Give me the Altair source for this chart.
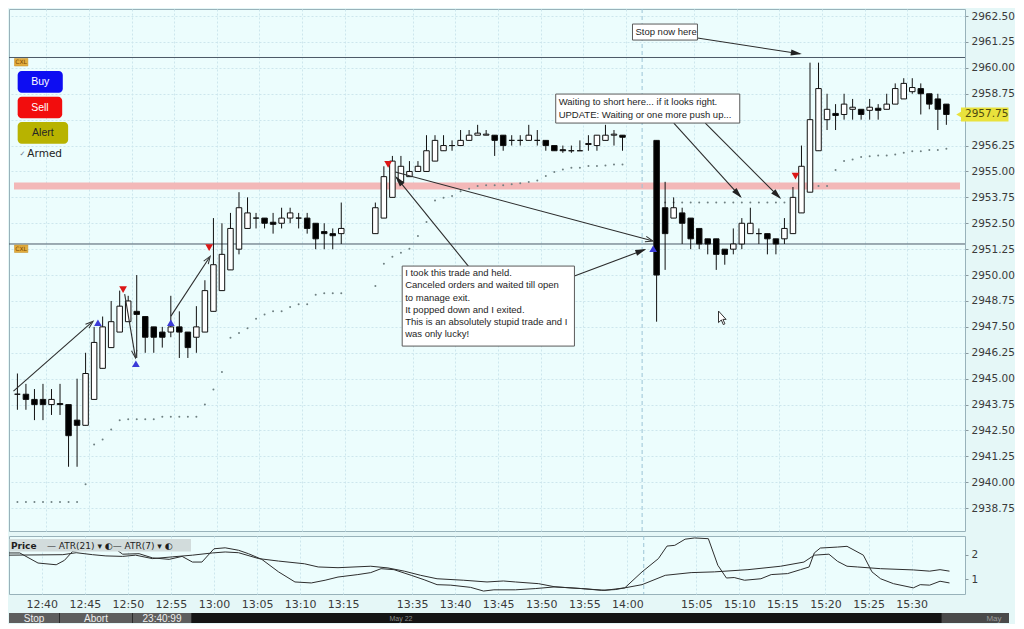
import math
import altair as alt
import pandas as pd

# ---------------- data ----------------
bar_index = list(range(0, 39)) + list(range(42, 72)) + list(range(75, 110))

opens = [2944.25, 2944.25, 2944.0, 2944.0, 2943.75, 2943.8, 2943.75, 2943.0, 2942.75, 2944.0,
         2945.5, 2946.5, 2947.25, 2947.75, 2948.25, 2948.0, 2947.5, 2947.25, 2947.25, 2947.5,
         2947.25, 2947.0, 2947.25, 2948.25, 2949.25, 2950.25, 2951.25, 2952.25, 2952.75, 2952.75,
         2952.55, 2952.5, 2952.75, 2952.75, 2952.75, 2952.5, 2952.1, 2952.0, 2952.0,
         2952.0, 2952.75, 2953.75, 2954.5, 2954.75, 2955.0, 2955.0, 2955.5, 2956.0, 2956.25,
         2956.25, 2956.5, 2956.75, 2956.75, 2956.75, 2956.75, 2956.5, 2956.5, 2956.5, 2956.5,
         2956.5, 2956.25, 2956.05, 2956.0, 2956.0, 2956.3, 2956.25, 2956.5, 2956.75, 2956.75,
         2956.5, 2953.25, 2952.75, 2953.0, 2952.75, 2952.25, 2951.75, 2951.75, 2951.25, 2951.25,
         2951.5, 2952.0, 2952.0, 2952.0, 2951.75, 2951.75, 2952.0, 2953.0, 2954.0, 2956.0,
         2957.5, 2957.8, 2957.75, 2958.0, 2958.0, 2957.95, 2958.05, 2958.0, 2958.25, 2958.5,
         2958.85, 2959.0, 2958.75, 2958.5, 2958.25]
highs = [2945.25, 2944.75, 2944.5, 2944.75, 2944.5, 2944.75, 2943.75, 2945.0, 2946.25, 2947.5,
         2948.0, 2948.75, 2949.25, 2949.0, 2950.0, 2948.0, 2947.5, 2947.5, 2949.0, 2948.25,
         2947.25, 2948.5, 2949.75, 2952.75, 2952.5, 2953.0, 2954.0, 2953.75, 2953.0, 2952.75,
         2953.0, 2953.25, 2953.25, 2953.0, 2953.0, 2952.5, 2952.5, 2952.25, 2953.5,
         2953.5, 2955.25, 2955.75, 2955.75, 2955.5, 2955.5, 2956.75, 2956.75, 2956.75, 2956.5,
         2957.0, 2957.0, 2957.25, 2957.0, 2956.75, 2956.75, 2956.75, 2956.75, 2957.25, 2957.0,
         2956.5, 2956.25, 2956.25, 2956.25, 2956.5, 2956.75, 2956.75, 2957.25, 2957.0, 2956.75,
         2956.5, 2954.5, 2953.75, 2953.25, 2952.75, 2952.25, 2951.75, 2951.75, 2951.25, 2952.25,
         2952.75, 2953.25, 2952.25, 2952.0, 2951.75, 2952.75, 2954.25, 2956.25, 2960.25, 2960.25,
         2958.75, 2958.25, 2958.75, 2958.5, 2958.0, 2958.5, 2958.25, 2958.75, 2959.25, 2959.5,
         2959.5, 2959.25, 2958.75, 2958.75, 2958.25]
lows = [2943.5, 2943.5, 2943.0, 2943.0, 2943.25, 2943.25, 2940.75, 2940.75, 2942.75, 2944.0,
        2945.5, 2946.5, 2947.25, 2947.75, 2946.0, 2946.25, 2946.25, 2946.5, 2947.0, 2946.0,
        2946.0, 2946.25, 2947.25, 2948.25, 2949.25, 2950.25, 2951.0, 2952.25, 2952.25, 2952.25,
        2952.0, 2952.25, 2952.5, 2952.25, 2952.0, 2951.25, 2951.25, 2951.25, 2951.5,
        2952.0, 2952.75, 2953.75, 2954.5, 2954.75, 2955.0, 2955.0, 2955.5, 2956.0, 2956.0,
        2956.25, 2956.5, 2956.75, 2956.75, 2955.75, 2956.0, 2956.25, 2956.25, 2956.5, 2956.25,
        2956.0, 2956.0, 2955.9, 2955.9, 2956.0, 2956.0, 2956.0, 2956.5, 2956.25, 2956.0,
        2947.75, 2950.25, 2952.75, 2951.5, 2951.25, 2951.25, 2951.0, 2950.25, 2950.5, 2951.0,
        2951.25, 2952.0, 2951.5, 2951.0, 2951.0, 2951.5, 2952.0, 2953.0, 2954.0, 2956.0,
        2957.0, 2957.0, 2957.5, 2957.5, 2957.5, 2957.5, 2957.5, 2958.0, 2958.25, 2958.5,
        2958.75, 2957.75, 2958.0, 2957.0, 2957.25]
closes = [2944.25, 2944.0, 2943.75, 2943.75, 2944.0, 2943.75, 2942.25, 2942.75, 2945.25, 2946.75,
          2947.5, 2947.75, 2948.5, 2948.75, 2948.1, 2947.0, 2947.0, 2947.0, 2947.5, 2947.25,
          2946.5, 2947.5, 2949.25, 2950.5, 2951.0, 2952.25, 2953.25, 2953.0, 2952.75, 2952.5,
          2952.45, 2952.75, 2953.0, 2952.75, 2952.25, 2951.75, 2952.0, 2951.9, 2952.25,
          2953.25, 2954.75, 2955.5, 2955.25, 2955.0, 2955.25, 2956.0, 2956.5, 2956.25, 2956.25,
          2956.5, 2956.75, 2956.85, 2956.8, 2956.5, 2956.25, 2956.5, 2956.5, 2956.75, 2956.5,
          2956.25, 2956.0, 2956.0, 2956.0, 2956.0, 2956.35, 2956.75, 2956.75, 2956.8, 2956.65,
          2950.0, 2952.0, 2953.25, 2952.5, 2951.75, 2951.5, 2951.5, 2951.0, 2951.0, 2951.5,
          2952.5, 2952.5, 2952.0, 2951.75, 2951.5, 2952.25, 2953.75, 2955.25, 2957.5, 2959.0,
          2958.0, 2957.7, 2958.25, 2958.1, 2957.75, 2958.1, 2957.95, 2958.25, 2959.0, 2959.25,
          2959.05, 2958.75, 2958.25, 2958.0, 2957.75]
stop_dots = ([2939.05] * 8 + [2939.9, 2941.83, 2942.07, 2942.55, 2943.0] + [2943.04] * 4 + [2943.16] * 5 +
             [2943.76, 2944.48, 2945.32, 2946.97, 2947.21, 2947.44, 2947.89, 2948.1, 2948.26, 2948.26,
              2948.46, 2948.59, 2948.59, 2949.05] + [2949.12] * 3 +
             [2949.47, 2950.55, 2950.88, 2951.08, 2951.27, 2951.88, 2952.56, 2953.6, 2953.73, 2953.81,
              2954.05, 2954.17, 2954.3, 2954.34, 2954.34, 2954.34, 2954.38, 2954.43, 2954.49, 2954.57,
              2954.78, 2954.97, 2955.1, 2955.18, 2955.18, 2955.26, 2955.26, 2955.29, 2955.34, 2955.34] +
             [2953.5] * 18 + [2954.3] * 3 +
             [2955.07, 2955.5, 2955.58, 2955.7, 2955.74, 2955.77, 2955.77, 2955.82, 2955.9, 2955.98,
              2955.98, 2956.03, 2956.03, 2956.1])

atr21_x = [-0.4, 5.85, 7.4, 9.3, 10.85, 12.8, 14.3, 16.25, 18.55, 20.9, 23.2, 24.7, 26.25, 28.6, 30.9,
           33.9, 35.5, 37.8, 41.6, 43.6, 45.5, 47.4, 49.3, 52.4, 55.1, 57.0, 58.4, 61.1, 63.0, 66.1,
           68.8, 71.1, 73.1, 75.8, 78.8, 81.5, 85.4, 89.2, 91.9, 93.1, 94.8, 95.8, 96.9, 98.1, 100.8,
           104.6, 106.5, 107.7, 108.8]
atr21_v = [1.98, 2.0, 2.08, 2.0, 1.95, 1.93, 1.98, 1.84, 1.91, 1.98, 2.07, 2.11, 2.08, 1.84, 1.74,
           1.63, 1.50, 1.47, 1.53, 1.46, 1.33, 1.16, 1.02, 0.96, 0.89, 0.93, 0.89, 0.82, 0.69, 0.62,
           0.55, 0.65, 0.78, 1.16, 1.27, 1.30, 1.39, 1.53, 1.70, 1.98, 2.02, 1.73, 1.53, 1.50, 1.43,
           1.38, 1.33, 1.39, 1.33]
atr7_x = [-0.4, 0.85, 2.97, 5.08, 6.04, 7.0, 8.55, 10.1, 12.0, 12.8,
          14.7, 16.25, 18.2, 19.7, 20.9, 22.0, 23.4, 24.7, 26.25, 27.4,
          28.95, 30.9, 32.8, 34.7, 36.3, 37.8, 40.1, 41.6, 42.8, 44.3,
          46.3, 47.8, 49.3, 50.9, 53.2, 54.7, 55.9, 58.4, 60.7, 63.0,
          66.1, 68.4, 70.0, 71.1, 73.1, 75.0, 76.0, 76.9, 78.1, 79.2,
          80.8, 81.9, 82.9, 83.8, 85.0, 86.9, 88.1, 90.0, 91.5, 92.5,
          93.1, 93.8, 95.8, 96.9, 98.8, 99.8, 100.8, 102.3, 104.6, 105.4,
          106.5, 107.7, 108.8]
atr7_v = [2.07, 2.07, 1.66, 1.59, 1.77, 2.14, 2.22, 2.18, 2.22, 2.02,
          2.04, 1.87, 1.81, 1.93, 1.70, 1.70, 2.24, 2.28, 2.18, 2.04,
          1.81, 1.30, 0.89, 0.85, 0.96, 1.09, 1.19, 1.27, 1.43, 1.39,
          1.16, 0.98, 0.78, 0.76, 0.67, 0.52, 0.57, 0.57, 0.62, 0.69,
          0.62, 0.55, 0.58, 0.65, 1.30, 1.84, 2.35, 2.38, 2.63, 2.68,
          2.65, 1.57, 1.05, 1.07, 0.96, 1.02, 1.19, 1.23, 1.39, 1.50,
          2.07, 2.27, 2.31, 2.34, 1.98, 1.30, 1.02, 0.82, 0.65, 0.78,
          0.76, 0.92, 0.85]

tick_labels = ["12:40", "12:45", "12:50", "12:55", "13:00", "13:05", "13:10", "13:15",
               "13:35", "13:40", "13:45", "13:50", "13:55", "14:00",
               "15:05", "15:10", "15:15", "15:20", "15:25", "15:30"]
tick_bars = [3, 8, 13, 18, 23, 28, 33, 38, 46, 51, 56, 61, 66, 71, 79, 84, 89, 94, 99, 104]
price_ticks = [round(2938.75 + 1.25 * k, 2) for k in range(20)]
atr_ticks = [1, 2]

buy_x = [9.45, 13.9, 18.0, 74.6]
buy_p = [2947.7, 2945.72, 2947.7, 2951.27]
sell_x = [12.4, 22.5, 43.5, 91.3]
sell_p = [2949.3, 2951.32, 2955.34, 2954.78]

stop_level = 2960.5
cxl_level = 2951.5
band_level = 2954.3
last_price = 2957.75
session_break = 73.3

stop_text = "Stop now here"
wait_lines = ["Waiting to short here... if it looks right.", "UPDATE: Waiting or one more push up..."]
took_lines = ["I took this trade and held.", "Canceled orders and waited till open", "to manage exit.",
              "It popped down and I exited.", "This is an absolutely stupid trade and I", "was only lucky!"]

assert len(bar_index) == len(opens) == len(highs) == len(lows) == len(closes) == len(stop_dots)
assert len(atr21_x) == len(atr21_v) and len(atr7_x) == len(atr7_v)

# ---------------- layout ----------------
W, H, HA, HS = 956, 522, 58, 10
X0, X1 = -0.4, 110.6
Y0, Y1 = 2937.65, 2962.84
A0, A1 = 0.40, 2.76
PXI = W / (X1 - X0)
PXP = H / (Y1 - Y0)
ATR_TOP = 8 + H + 3


def ref_i(xp):
    return (xp - 6.0) / 8.66


def ref_p(yp):
    return 2962.5 - (yp - 15.0) / 20.72


def ui_i(xp):
    return X0 + (xp - 8.0) / PXI


def ui_p(yp):
    return Y1 - (yp - 8.0) / PXP


def ui_a(yp):
    return A1 - (yp - ATR_TOP) / HA * (A1 - A0)


xs = alt.Scale(domain=[X0, X1], nice=False, zero=False)
ys = alt.Scale(domain=[Y0, Y1], nice=False, zero=False)
as_ = alt.Scale(domain=[A0, A1], nice=False, zero=False)

GRID = dict(gridColor="#cde6ed", gridDash=[2, 2], gridWidth=1)
tick_pos = [round(b + 0.4, 1) for b in tick_bars]
label_expr = ("[" + ",".join("'%s'" % t for t in tick_labels) + "][indexof([" +
              ",".join("%g" % p for p in tick_pos) + "], datum.value)]")
# the last-price tag hides the label right under it
price_label_expr = "abs(datum.value - %g) < 0.3 && datum.value < %g ? '' : format(datum.value, '.2f')" % (
    last_price, last_price)

x_axis_top = alt.Axis(values=tick_pos, labels=False, ticks=False, domain=False, grid=True, title=None, **GRID)
y_axis_price = alt.Axis(orient="right", values=price_ticks, labelExpr=price_label_expr, grid=True, title=None,
                        tickSize=3, labelPadding=3, domain=False, tickColor="#8a9aa0",
                        labelFont="DejaVu Sans", labelFontSize=10.5, labelColor="#3a3a3a",
                        labelOverlap=False, **GRID)
x_axis_atr = alt.Axis(values=tick_pos, labelExpr=label_expr, ticks=False, domain=False, grid=True,
                      title=None, labelPadding=4, labelFont="DejaVu Sans", labelFontSize=11,
                      labelColor="#3a3a3a", labelFlush=False, labelOverlap=False, **GRID)
y_axis_atr = alt.Axis(orient="right", values=atr_ticks, format="d", grid=False, title=None,
                      tickSize=3, labelPadding=3, domain=False, tickColor="#8a9aa0",
                      labelFont="DejaVu Sans", labelFontSize=10.5, labelColor="#3a3a3a")


def PX(f):
    return alt.X(f + ":Q", scale=xs, axis=x_axis_top)


def PY(f):
    return alt.Y(f + ":Q", scale=ys, axis=y_axis_price)


def AX(f):
    return alt.X(f + ":Q", scale=xs, axis=x_axis_atr)


def AY(f):
    return alt.Y(f + ":Q", scale=as_, axis=y_axis_atr)


# ---------------- price panel ----------------
cdf = pd.DataFrame({"i": bar_index, "o": opens, "h": highs, "l": lows, "c": closes, "stop": stop_dots})

band = alt.Chart(pd.DataFrame({"x1": [X0], "x2": [X1], "p1": [band_level - 0.17], "p2": [band_level + 0.17]})
                 ).mark_rect(fill="#f3b8b8").encode(x=PX("x1"), x2=alt.X2("x2"), y=PY("p1"), y2=alt.Y2("p2"))
levels = alt.Chart(pd.DataFrame({"p": [stop_level, cxl_level]})).mark_rule(
    color="#4b5967", strokeWidth=1).encode(y=PY("p"))
divider = alt.Chart(pd.DataFrame({"i": [session_break]})).mark_rule(
    color="#9cc4d6", strokeDash=[4, 3], strokeWidth=1).encode(x=PX("i"))
dots = alt.Chart(cdf).mark_circle(size=4, color="#6f8082", opacity=1).encode(x=PX("i"), y=PY("stop"))
wicks = alt.Chart(cdf).mark_rule(color="#111111", strokeWidth=1).encode(x=PX("i"), y=PY("l"), y2=alt.Y2("h"))
bodies = alt.Chart(cdf).mark_bar(size=5.5, stroke="#111111", strokeWidth=1).encode(
    x=PX("i"), y=PY("o"), y2=alt.Y2("c"),
    fill=alt.when(alt.datum.c >= alt.datum.o).then(alt.value("#ffffff")).otherwise(alt.value("#000000")))
buys = alt.Chart(pd.DataFrame({"i": buy_x, "p": buy_p})).mark_point(
    shape="triangle-up", filled=True, size=60, color="#3b3bd8", opacity=1).encode(x=PX("i"), y=PY("p"))
sells = alt.Chart(pd.DataFrame({"i": sell_x, "p": sell_p})).mark_point(
    shape="triangle-down", filled=True, size=60, color="#dc1616", opacity=1).encode(x=PX("i"), y=PY("p"))

# annotation arrows (reference pixel readings -> data units)
arrows_px = [
    (697, 37, 803, 53, "solid"),
    (673, 122, 742, 197, "solid"),
    (705, 122, 782, 198, "solid"),
    (465, 266, 390, 175, "solid"),
    (572, 275, 645, 248, "solid"),
    (390, 171, 652, 240, "open"),
    (2, 390, 83, 320, "open"),
    (115, 293, 126, 357, "open"),
    (162, 315, 202, 255, "open"),
]
arow, hrow = [], []
for (xa, ya, xb, yb, kind) in arrows_px:
    i1, p1, i2, p2 = ref_i(xa), ref_p(ya), ref_i(xb), ref_p(yb)
    dx = (i2 - i1) * PXI
    dy = -(p2 - p1) * PXP
    L = math.hypot(dx, dy)
    ux, uy = dx / L, dy / L
    ang = math.degrees(math.atan2(ux, -uy)) % 360
    back = 5.5 if kind == "solid" else 4.0
    arow.append({"i1": i1, "p1": p1, "i2": i2 - 2 * ux / PXI, "p2": p2 + 2 * uy / PXP, "kind": kind})
    hrow.append({"i": i2 - back * ux / PXI, "p": p2 + back * uy / PXP, "ang": ang, "kind": kind})
adf = pd.DataFrame(arow)
hdf = pd.DataFrame(hrow)
arrow_lines = alt.Chart(adf).mark_rule(color="#2c2c2c", strokeWidth=1.1).encode(
    x=PX("i1"), y=PY("p1"), x2=alt.X2("i2"), y2=alt.Y2("p2"))
heads_solid = alt.Chart(hdf[hdf.kind == "solid"]).mark_point(
    shape="M0,-1L0.55,1L-0.55,1Z", filled=True, size=121, color="#222222", opacity=1).encode(
    x=PX("i"), y=PY("p"), angle=alt.Angle("ang:Q", scale=None))
heads_open = alt.Chart(hdf[hdf.kind == "open"]).mark_point(
    shape="M-0.7,1L0,-1L0.7,1", filled=False, size=60, color="#333333", strokeWidth=1, opacity=1).encode(
    x=PX("i"), y=PY("p"), angle=alt.Angle("ang:Q", scale=None))

boxes = pd.DataFrame({
    "x1": [ref_i(631), ref_i(553), ref_i(397)],
    "x2": [ref_i(697), ref_i(740), ref_i(572)],
    "p1": [ref_p(23), ref_p(93), ref_p(265)],
    "p2": [ref_p(39), ref_p(122), ref_p(345)],
})
box_rects = alt.Chart(boxes).mark_rect(fill="#ffffff", stroke="#5a5a5a", strokeWidth=1).encode(
    x=PX("x1"), x2=alt.X2("x2"), y=PY("p1"), y2=alt.Y2("p2"))
trows = [{"i": ref_i(634), "p": ref_p(31), "t": stop_text}]
trows += [{"i": ref_i(556), "p": ref_p(100.7 + 13.6 * k), "t": t} for k, t in enumerate(wait_lines)]
trows += [{"i": ref_i(400), "p": ref_p(272.3 + 12.1 * k), "t": t} for k, t in enumerate(took_lines)]
box_text = alt.Chart(pd.DataFrame(trows)).mark_text(
    align="left", baseline="middle", font="Liberation Sans", fontSize=9.5, color="#1e1e1e").encode(
    x=PX("i"), y=PY("p"), text="t:N")

cxl = pd.DataFrame({"x1": [ui_i(8.5)] * 2, "x2": [ui_i(22)] * 2, "xm": [ui_i(15.2)] * 2,
                    "p1": [stop_level - 1 / PXP, cxl_level - 1 / PXP],
                    "p2": [stop_level - 8.5 / PXP, cxl_level - 8.5 / PXP],
                    "pm": [stop_level - 4.8 / PXP, cxl_level - 4.8 / PXP], "t": ["CXL", "CXL"]})
cxl_rect = alt.Chart(cxl).mark_rect(fill="#e3ad3e", stroke="#c48d22", strokeWidth=0.5).encode(
    x=PX("x1"), x2=alt.X2("x2"), y=PY("p1"), y2=alt.Y2("p2"))
cxl_text = alt.Chart(cxl).mark_text(fontSize=6, font="DejaVu Sans", color="#7a4600", baseline="middle").encode(
    x=PX("xm"), y=PY("pm"), text="t:N")

btn = pd.DataFrame({
    "x1": [ui_i(11.7)] * 3, "x2": [ui_i(57.3), ui_i(56.7), ui_i(62.7)],
    "p1": [ui_p(70), ui_p(95.7), ui_p(121)], "p2": [ui_p(91.7), ui_p(117.3), ui_p(142.7)],
    "xm": [ui_i(34.5), ui_i(34.2), ui_i(37.2)], "pm": [ui_p(81), ui_p(106.5), ui_p(132)],
    "t": ["Buy", "Sell", "Alert"], "fill": ["#0d0df2", "#f20d0d", "#b8b300"],
    "tc": ["#ffffff", "#ffffff", "#262626"]})
btn_rect = alt.Chart(btn).mark_rect(cornerRadius=4).encode(
    x=PX("x1"), x2=alt.X2("x2"), y=PY("p1"), y2=alt.Y2("p2"), fill=alt.Fill("fill:N", scale=None))
btn_text = alt.Chart(btn).mark_text(font="Liberation Sans", fontSize=10.5, baseline="middle").encode(
    x=PX("xm"), y=PY("pm"), text="t:N", color=alt.Color("tc:N", scale=None))
armed = pd.DataFrame({"i": [ui_i(13.5), ui_i(21.5)], "p": [ui_p(152.5), ui_p(153)], "t": ["\u2713", "Armed"],
                      "c": ["#6a7a8c", "#222222"], "s": [7, 10.5]})
armed_text = alt.Chart(armed).mark_text(font="DejaVu Sans", align="left", baseline="middle").encode(
    x=PX("i"), y=PY("p"), text="t:N", color=alt.Color("c:N", scale=None), size=alt.Size("s:Q", scale=None))

tag = pd.DataFrame({"x1": [ui_i(8 + W + 1)], "x2": [ui_i(8 + W + 49)], "xt": [ui_i(8 + W + 5)],
                    "xp": [ui_i(8 + W - 1)],
                    "p1": [last_price - 7 / PXP], "p2": [last_price + 7 / PXP], "p": [last_price],
                    "t": ["%.2f" % last_price]})
tag_rect = alt.Chart(tag).mark_rect(fill="#e9e23c").encode(x=PX("x1"), x2=alt.X2("x2"), y=PY("p1"), y2=alt.Y2("p2"))
tag_ptr = alt.Chart(tag).mark_point(shape="triangle-left", filled=True, size=40, color="#e9e23c", opacity=1).encode(
    x=PX("xp"), y=PY("p"))
tag_text = alt.Chart(tag).mark_text(font="DejaVu Sans", fontSize=10.5, align="left", baseline="middle",
                                    color="#4e4a10").encode(x=PX("xt"), y=PY("p"), text="t:N")

cursor = alt.Chart(pd.DataFrame({"i": [ui_i(724)], "p": [ui_p(318)]})).mark_point(
    shape="M-0.5,-1L-0.5,0.45L-0.15,0.12L0.1,0.7L0.3,0.6L0.05,0.05L0.45,0.05Z",
    filled=True, size=256, fill="#ffffff", stroke="#333333", strokeWidth=1, opacity=1).encode(
    x=PX("i"), y=PY("p"))

price = alt.layer(band, levels, divider, dots, wicks, bodies, buys, sells, arrow_lines, heads_solid,
                  heads_open, box_rects, box_text, cxl_rect, cxl_text, btn_rect, btn_text, armed_text,
                  tag_rect, tag_ptr, tag_text, cursor).properties(width=W, height=H)

# ---------------- ATR panel ----------------
atr_df = pd.DataFrame({"series": ["ATR(21)"] * len(atr21_x) + ["ATR(7)"] * len(atr7_x),
                       "i": atr21_x + atr7_x, "v": atr21_v + atr7_v})
atr_div = alt.Chart(pd.DataFrame({"i": [session_break]})).mark_rule(
    color="#9cc4d6", strokeDash=[4, 3], strokeWidth=1).encode(x=AX("i"))
atr_lines = alt.Chart(atr_df).mark_line(color="#2e2e2e", strokeWidth=1, clip=True).encode(
    x=AX("i"), y=AY("v"), detail="series:N")
hdr = pd.DataFrame({"x1": [ui_i(8.5)], "x2": [ui_i(190)], "a1": [ui_a(536)], "a2": [ui_a(548.5)]})
hdr_rect = alt.Chart(hdr).mark_rect(fill="#d2dcdc").encode(x=AX("x1"), x2=alt.X2("x2"), y=AY("a1"), y2=alt.Y2("a2"))
hdr_bold = alt.Chart(pd.DataFrame({"i": [ui_i(10)], "a": [ui_a(542.5)], "t": ["Price"]})).mark_text(
    font="DejaVu Sans", fontSize=9, fontWeight="bold", align="left", baseline="middle", color="#1e1e1e").encode(
    x=AX("i"), y=AY("a"), text="t:N")
hdr_text = alt.Chart(pd.DataFrame({"i": [ui_i(46)], "a": [ui_a(542.5)],
                                   "t": ["\u2014 ATR(21) \u25be \u25d0\u2014 ATR(7) \u25be \u25d0"]})).mark_text(
    font="DejaVu Sans", fontSize=9, align="left", baseline="middle", color="#1e1e1e").encode(
    x=AX("i"), y=AY("a"), text="t:N")
atr = alt.layer(atr_div, atr_lines, hdr_rect, hdr_bold, hdr_text).properties(width=W, height=HA)

# ---------------- status bar ----------------
sb = pd.DataFrame({"x1": [0, 51, 124, 183, 933], "x2": [50, 123, 182, 932, 1000],
                   "fill": ["#5e5e5e", "#5e5e5e", "#5e5e5e", "#151515", "#4a4a4a"]})
sbt = pd.DataFrame({"x": [25, 87, 153, 392, 985], "t": ["Stop", "Abort", "23:40:99", "May 22", "May"],
                    "c": ["#eeeeee", "#eeeeee", "#eeeeee", "#8a8a8a", "#9a9a9a"], "s": [10, 10, 10, 7, 8]})
sb_rect = alt.Chart(sb).mark_rect().encode(
    x=alt.X("x1:Q", scale=None, axis=None), x2=alt.X2("x2"), y=alt.value(0), y2=alt.value(HS),
    fill=alt.Fill("fill:N", scale=None))
sb_text = alt.Chart(sbt).mark_text(font="Liberation Sans", baseline="middle").encode(
    x=alt.X("x:Q", scale=None, axis=None), y=alt.value(HS / 2 + 1), text="t:N",
    color=alt.Color("c:N", scale=None), size=alt.Size("s:Q", scale=None))
status = alt.layer(sb_rect, sb_text).properties(
    width=1000, height=HS, view=alt.ViewBackground(fill="#2b2b2b", strokeWidth=0))

chart = alt.vconcat(price, atr, status, spacing=3).resolve_scale(
    x="independent", y="independent").properties(padding=0, background="#e5f7f7").configure_view(
    fill="#ecfdfd", stroke="#98b2ba", strokeWidth=1)

chart.save("out.html", embed_options={"renderer": "svg", "actions": False})
